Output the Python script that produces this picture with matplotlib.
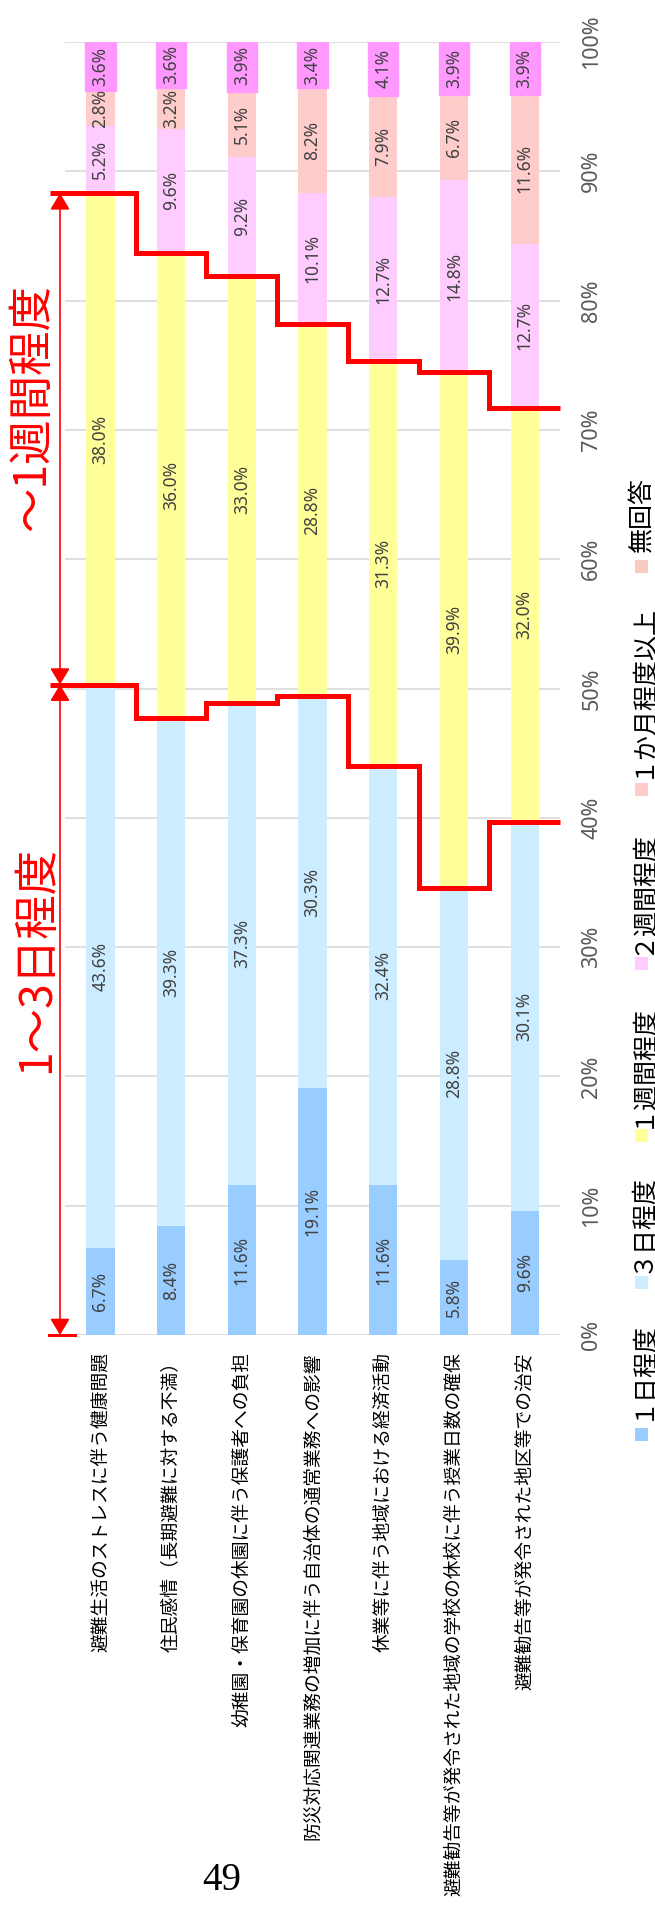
import matplotlib
matplotlib.use('Agg')
import matplotlib.pyplot as plt
import numpy as np
import matplotlib.transforms as mtransforms
from matplotlib.patches import FancyArrowPatch, Rectangle

plt.rcParams['font.family'] = ['Noto Sans CJK JP', 'DejaVu Sans']

# ---------------- data ----------------
categories = [
    '避難生活のストレスに伴う健康問題',
    '住民感情（長期避難に対する不満）',
    '幼稚園・保育園の休園に伴う保護者への負担',
    '防災対応関連業務の増加に伴う自治体の通常業務への影響',
    '休業等に伴う地域における経済活動',
    '避難勧告等が発令された地域の学校の休校に伴う授業日数の確保',
    '避難勧告等が発令された地区等での治安',
]
series_names = ['１日程度', '３日程度', '１週間程度', '２週間程度', '１か月程度以上', '無回答']
one_day    = [6.7, 8.4, 11.6, 19.1, 11.6, 5.8, 9.6]
three_days = [43.6, 39.3, 37.3, 30.3, 32.4, 28.8, 30.1]
one_week   = [38.0, 36.0, 33.0, 28.8, 31.3, 39.9, 32.0]
two_weeks  = [5.2, 9.6, 9.2, 10.1, 12.7, 14.8, 12.7]
one_month  = [2.8, 3.2, 5.1, 8.2, 7.9, 6.7, 11.6]
no_answer  = [3.6, 3.6, 3.9, 3.4, 4.1, 3.9, 3.9]
pct_ticks  = [0, 10, 20, 30, 40, 50, 60, 70, 80, 90, 100]
annot_short = '1～3日程度'
annot_long = '～1週間程度'
page_number = '49'

series = [one_day, three_days, one_week, two_weeks, one_month, no_answer]
bar_colors = ['#99CCFF', '#CCECFF', '#FFFF99', '#FFCCFF', '#FFCCCC', '#FF99FF']
legend_colors = ['#99CCFF', '#CCECFF', '#FFFF99', '#FFCCFF', '#FFCCCC', '#F8CBC1']

# ---------------- layout ----------------
W, H = 655, 1919
fig = plt.figure(figsize=(W / 100, H / 100), dpi=100)
AX_L, AX_R, AX_T, AX_B = 65, 560, 42, 1335
ax = fig.add_axes([AX_L / W, (H - AX_B) / H, (AX_R - AX_L) / W, (AX_B - AX_T) / H])
n = len(categories)
ax.set_xlim(-0.5, n - 0.5)
ax.set_ylim(0, 100)
ax.axis('off')

def px_to_x(px):
    return (px - AX_L) / ((AX_R - AX_L) / n) - 0.5

# gridlines
for t in pct_ticks:
    ax.axhline(t, color='#D9D9D9', lw=1.2, zorder=0)

x = np.arange(n)
bottom = np.zeros(n)
for k, (vals, col) in enumerate(zip(series, bar_colors)):
    vals = np.array(vals)
    if k == len(series) - 1:
        ax.bar(x, vals, 0.4, bottom=bottom, color=col, edgecolor=col, lw=2.4, zorder=2)
    else:
        ax.bar(x, vals, 0.4, bottom=bottom, color=col, lw=0, zorder=2)
    for i in range(n):
        ax.text(x[i], bottom[i] + vals[i] / 2, f'{vals[i]:.1f}%', rotation=90,
                ha='center', va='center', fontsize=12.5, color='#404040',
                family=['Noto Sans', 'DejaVu Sans'], zorder=4)
    bottom = bottom + vals

# red step lines
cum2 = np.array(one_day) + np.array(three_days)
cum3 = cum2 + np.array(one_week)
for cum in (cum2, cum3):
    xs, ys = [], []
    for i, c in enumerate(cum):
        left = px_to_x(50) if i == 0 else i - 0.5
        xs += [left, i + 0.5]
        ys += [c, c]
    ax.plot(xs, ys, color='#FF0000', lw=3.6, clip_on=False, zorder=6,
            solid_joinstyle='miter', solid_capstyle='butt')

# arrows
xa = px_to_x(60)
for y0, y1 in ((0, cum2[0]), (cum2[0], cum3[0])):
    arr = FancyArrowPatch((xa, y0), (xa, y1), arrowstyle='<|-|>,head_length=0.5,head_width=0.3',
                          mutation_scale=20, color='#FF0000', lw=1.2, shrinkA=0, shrinkB=0,
                          clip_on=False, zorder=6)
    ax.add_patch(arr)
ax.plot([px_to_x(49), px_to_x(75)], [0, 0], color='#FF0000', lw=2.2, clip_on=False, zorder=6)

# category labels
tr_cat = mtransforms.blended_transform_factory(ax.transData, fig.transFigure)
for i, lab in enumerate(categories):
    ax.text(i, 1 - 1352 / H, lab, rotation=90, ha='center', va='top', fontsize=13.5,
            color='black', transform=tr_cat)

# percentage tick labels (right side)
tr_tick = mtransforms.blended_transform_factory(fig.transFigure, ax.transData)
for t in pct_ticks:
    ax.text(591.7 / W, t, f'{t}%', rotation=90, ha='center', va='center', fontsize=15.5,
            color='#595959', family=['Noto Sans', 'DejaVu Sans'], transform=tr_tick, clip_on=False)

# legend (manual, rotated)
leg_swatch_y = [1434, 1282, 1135, 963, 790, 567]
leg_text_top = [1320, 1173, 1003, 830, 603, 477]
for name, col, sy, ty in zip(series_names, legend_colors, leg_swatch_y, leg_text_top):
    fig.add_artist(Rectangle(((641.5 - 6.5) / W, 1 - (sy + 6.5) / H), 13 / W, 13 / H,
                             transform=fig.transFigure, color=col, lw=0))
    fig.text(641.7 / W, 1 - ty / H, name, rotation=90, ha='center', va='top',
             fontsize=18, color='black')

# big red annotations
fig.text(32.5 / W, 1 - 407.5 / H, annot_long, rotation=90, ha='center', va='center',
         fontsize=32, color='#FF0000')
fig.text(36.5 / W, 1 - 959 / H, annot_short, rotation=90, ha='center', va='center',
         fontsize=32, color='#FF0000')

# page number
fig.text(222 / W, 1 - 1880 / H, page_number, ha='center', va='center', fontsize=28,
         family=['Liberation Serif', 'DejaVu Serif'], color='black')

fig.savefig('out.png', dpi=100, facecolor='white')
